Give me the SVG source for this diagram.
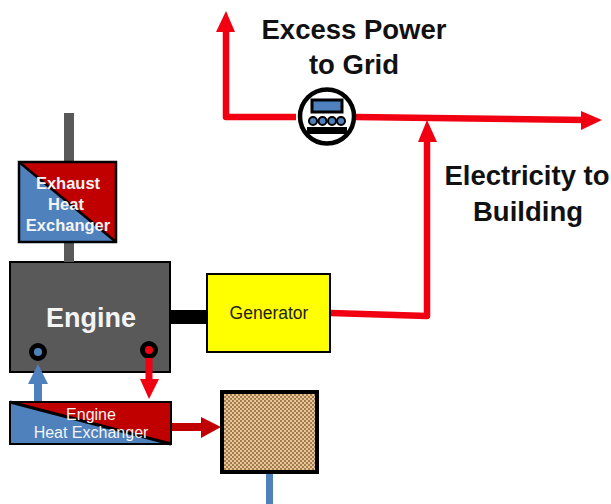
<svg xmlns="http://www.w3.org/2000/svg" width="611" height="504" viewBox="0 0 611 504">
<style>
text{font-family:"Liberation Sans",Arial,sans-serif;text-anchor:middle}
.lbl{font-weight:bold;font-size:27.500px;fill:#111}
.w{font-weight:bold;fill:#f4f4f4}
.n{fill:#f4f4f4;font-size:16px}
.red{fill:none;stroke:#f00010;stroke-width:6.500;stroke-linejoin:round}
</style>
<defs>
<pattern id="chk" width="4" height="4" patternUnits="userSpaceOnUse"><rect width="4" height="4" fill="#e6c798"/><rect width="2" height="2" fill="#a67c4e"/><rect x="2" y="2" width="2" height="2" fill="#a67c4e"/></pattern>
</defs>
<rect width="611" height="504" fill="#fff"/>
<g id="engine">
<rect x="10" y="262" width="160" height="110" fill="#595959" stroke="#000" stroke-width="2"/>
<text class="w" x="91" y="327" font-size="27">Engine</text>
<circle cx="38" cy="352" r="6.500" fill="#4f81bd" stroke="#000" stroke-width="5"/>
<circle cx="149" cy="350" r="6.500" fill="#f00010" stroke="#000" stroke-width="5"/>
</g>
<g id="connectors">
<rect x="64" y="113" width="10" height="50" fill="#595959"/>
<rect x="64" y="242" width="10" height="20" fill="#595959"/>
<rect x="170" y="310" width="38" height="14" fill="#000"/>
<path class="red" d="M226 30V117H296"/>
<path d="M226 11L235 32H216Z" fill="#f00010"/>
<path class="red" d="M356 117L585 120"/>
<path d="M602 120L581 111V130Z" fill="#f00010"/>
<path class="red" d="M331 313L427 316V135"/>
<path d="M427 120L437 142H418Z" fill="#f00010"/>
<path d="M38 402V382" stroke="#4f81bd" stroke-width="8" fill="none"/>
<path d="M38 364L48 384H28Z" fill="#4f81bd"/>
<path d="M149 358V382" stroke="#f00010" stroke-width="7" fill="none"/>
<path d="M149 399L159 379H140Z" fill="#f00010"/>
<path d="M171 427H205" stroke="#c00000" stroke-width="8" fill="none"/>
<path d="M221 427L201 417V438Z" fill="#c00000"/>
<rect x="266" y="472" width="7" height="32" fill="#4f81bd"/>
</g>
<g id="meter">
<circle cx="327" cy="116.500" r="27" fill="#fff" stroke="#000" stroke-width="4.500"/>
<rect x="312" y="100" width="30" height="12" fill="#4f81bd" stroke="#000" stroke-width="3"/>
<g fill="#4f81bd" stroke="#000" stroke-width="2"><circle cx="313" cy="121" r="4"/><circle cx="322.500" cy="121" r="4"/><circle cx="332" cy="121" r="4"/><circle cx="341" cy="121" r="4"/></g>
<rect x="307" y="127" width="40" height="7" fill="#000"/>
</g>
<g id="exhaust-hx">
<rect x="19" y="162" width="97" height="80" fill="#c00000"/>
<path d="M19 162L116 242H19Z" fill="#4f81bd"/>
<path d="M19 162L116 242" stroke="#000" stroke-width="2.500"/>
<rect x="19" y="162" width="97" height="80" fill="none" stroke="#000" stroke-width="2.500"/>
<text class="w" x="68" y="189" font-size="16.500">Exhaust</text>
<text class="w" x="66" y="210" font-size="16.500">Heat</text>
<text class="w" x="68" y="231" font-size="16.500">Exchanger</text>
</g>
<g id="generator">
<rect x="207" y="274" width="123" height="78" fill="#ffff00" stroke="#000" stroke-width="2"/>
<text x="269" y="319" font-size="17.500" fill="#222">Generator</text>
</g>
<g id="engine-hx">
<rect x="10" y="402" width="161" height="42" fill="#c00000"/>
<path d="M10 402L171 444H10Z" fill="#4f81bd"/>
<path d="M10 402L171 444" stroke="#000" stroke-width="3"/>
<rect x="10" y="402" width="161" height="42" fill="none" stroke="#000" stroke-width="2"/>
<text class="n" x="91" y="420">Engine</text>
<text class="n" x="91" y="438">Heat Exchanger</text>
</g>
<g id="storage">
<rect x="222" y="392" width="95" height="80" fill="url(#chk)" stroke="#000" stroke-width="4"/>
</g>
<g id="labels">
<text class="lbl" x="354" y="39">Excess Power</text>
<text class="lbl" x="354" y="74">to Grid</text>
<text class="lbl" x="527" y="185">Electricity to</text>
<text class="lbl" x="528" y="221">Building</text>
</g>
</svg>
